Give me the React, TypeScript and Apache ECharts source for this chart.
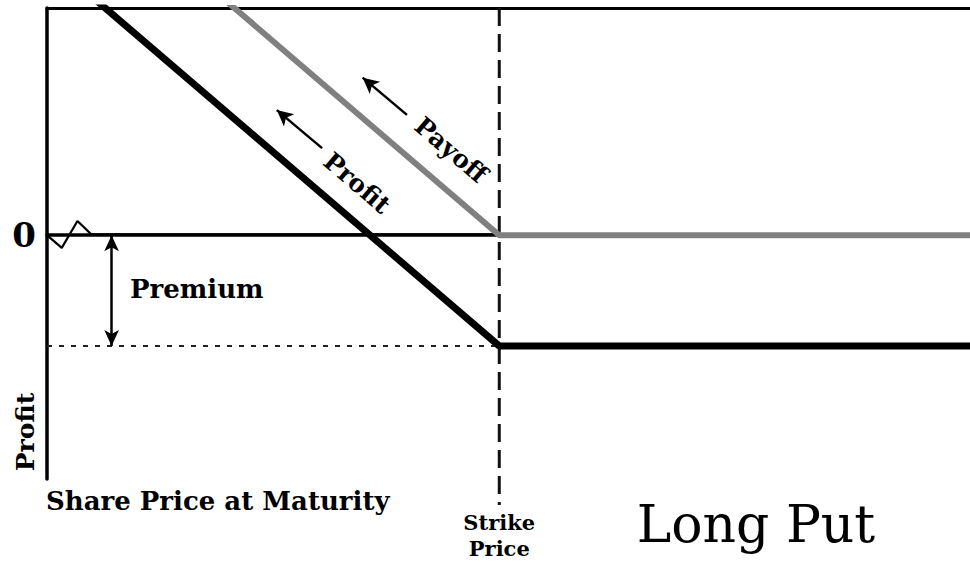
import React, { useEffect, useRef } from "react";
import * as echarts from "echarts";

// Share price axis (arbitrary units) and key levels
const priceMin = 0;
const priceMax = 100;
const profitMin = -30.8;
const profitMax = 28.7;
const strike = 49;
const premium = 14;

// Series data
const sharePrices = [0, 49, 100];
const payoffValues = [49, 0, 0];
const profitValues = [35, -14, -14];

// Zero line with axis-break zigzag
const zeroLineX = [0, 1.6, 3.3, 4.8, 49];
const zeroLineY = [0, -1.6, 1.8, 0.1, 0.1];

// Direction arrows along the lines [fromX, fromY, toX, toY]
const payoffArrow = [39.0, 15.2, 34.2, 19.9];
const profitArrow = [29.8, 11.0, 24.9, 15.8];
const premiumArrowX = 7.0;

const SERIF = "'DejaVu Serif', 'Liberation Serif', serif";

export default function App() {
  const ref = useRef<HTMLDivElement>(null);

  useEffect(() => {
    if (!ref.current) return;
    const chart = echarts.init(ref.current, undefined, { renderer: "svg" });
    const angle = -Math.atan(0.857);

    const option: any = {
      animation: false,
      backgroundColor: "#ffffff",
      grid: { left: 47, top: 8, right: 0, bottom: 83, containLabel: false },
      xAxis: [
        {
          type: "value",
          min: priceMin,
          max: priceMax,
          position: "bottom",
          splitLine: { show: false },
          axisTick: { show: false },
          axisLine: { show: true, lineStyle: { color: "#000", width: 3.5 } },
          axisLabel: {
            show: true,
            customValues: [strike],
            formatter: () => "Strike\nPrice",
            fontFamily: SERIF,
            fontWeight: "bold",
            fontSize: 21,
            lineHeight: 26,
            color: "#000",
            margin: 30,
          },
        },
        {
          type: "value",
          min: priceMin,
          max: priceMax,
          position: "top",
          splitLine: { show: false },
          axisTick: { show: false },
          axisLabel: { show: false },
          axisLine: { show: true, lineStyle: { color: "#000", width: 3 } },
        },
      ],
      yAxis: {
        type: "value",
        min: profitMin,
        max: profitMax,
        splitLine: { show: false },
        axisTick: { show: false },
        axisLine: { show: true, lineStyle: { color: "#000", width: 3.5 } },
        axisLabel: {
          show: true,
          customValues: [0],
          formatter: () => "0",
          fontFamily: SERIF,
          fontWeight: "bold",
          fontSize: 34,
          color: "#000",
          margin: 11,
        },
      },
      series: [
        {
          type: "line",
          name: "zero",
          data: zeroLineX.map((x, i) => [x, zeroLineY[i]]),
          symbol: "none",
          lineStyle: { color: "#000", width: 2.2 },
          z: 2,
        },
        {
          type: "line",
          name: "premiumLevel",
          data: [
            [priceMin, -premium],
            [strike, -premium],
          ],
          symbol: "none",
          lineStyle: { color: "#222", width: 2, type: [5, 7] },
          markLine: {
            silent: true,
            symbol: ["arrow", "arrow"],
            symbolSize: [11, 16],
            label: { show: false },
            lineStyle: { color: "#000", width: 2.5, type: "solid" },
            data: [
              [
                { coord: [premiumArrowX, 0] },
                { coord: [premiumArrowX, -premium] },
              ],
            ],
          },
          z: 2,
        },
        {
          type: "line",
          name: "strike",
          data: [
            [strike, profitMax],
            [strike, profitMin - 3.3],
          ],
          clip: false,
          symbol: "none",
          lineStyle: { color: "#111", width: 3, type: [18, 8] },
          z: 2,
        },
        {
          type: "line",
          name: "Payoff",
          data: sharePrices.map((x, i) => [x, payoffValues[i]]),
          symbol: "none",
          lineStyle: { color: "#808080", width: 6 },
          markLine: {
            silent: true,
            symbol: ["none", "arrow"],
            symbolSize: [12, 16],
            label: { show: false },
            lineStyle: { color: "#000", width: 2.5, type: "solid" },
            data: [
              [
                { coord: [payoffArrow[0], payoffArrow[1]] },
                { coord: [payoffArrow[2], payoffArrow[3]] },
              ],
            ],
          },
          z: 3,
        },
        {
          type: "line",
          name: "Profit",
          data: sharePrices.map((x, i) => [x, profitValues[i]]),
          symbol: "none",
          lineStyle: { color: "#000", width: 7 },
          markLine: {
            silent: true,
            symbol: ["none", "arrow"],
            symbolSize: [12, 16],
            label: { show: false },
            lineStyle: { color: "#000", width: 2.5, type: "solid" },
            data: [
              [
                { coord: [profitArrow[0], profitArrow[1]] },
                { coord: [profitArrow[2], profitArrow[3]] },
              ],
            ],
          },
          z: 4,
        },
      ],
      graphic: [
        {
          type: "text",
          x: 451,
          y: 150,
          rotation: angle,
          style: {
            text: "Payoff",
            fontFamily: SERIF,
            fontWeight: "bold",
            fontSize: 25,
            fill: "#000",
            align: "center",
            verticalAlign: "middle",
          },
        },
        {
          type: "text",
          x: 357,
          y: 183,
          rotation: angle,
          style: {
            text: "Profit",
            fontFamily: SERIF,
            fontWeight: "bold",
            fontSize: 25,
            fill: "#000",
            align: "center",
            verticalAlign: "middle",
          },
        },
        {
          type: "text",
          x: 130,
          y: 289,
          style: {
            text: "Premium",
            fontFamily: SERIF,
            fontWeight: "bold",
            fontSize: 26,
            fill: "#000",
            align: "left",
            verticalAlign: "middle",
          },
        },
        {
          type: "text",
          x: 25,
          y: 432,
          rotation: Math.PI / 2,
          style: {
            text: "Profit",
            fontFamily: SERIF,
            fontWeight: "bold",
            fontSize: 25,
            fill: "#000",
            align: "center",
            verticalAlign: "middle",
          },
        },
        {
          type: "text",
          x: 46,
          y: 501,
          style: {
            text: "Share Price at Maturity",
            fontFamily: SERIF,
            fontWeight: "bold",
            fontSize: 26,
            fill: "#000",
            align: "left",
            verticalAlign: "middle",
          },
        },
        {
          type: "text",
          x: 756,
          y: 524,
          style: {
            text: "Long Put",
            fontFamily: SERIF,
            fontWeight: "normal",
            fontSize: 52,
            fill: "#000",
            align: "center",
            verticalAlign: "middle",
          },
        },
      ],
    };

    chart.setOption(option);
    return () => chart.dispose();
  }, []);

  return (
    <div
      ref={ref}
      style={{ position: "absolute", left: 0, top: 0, width: 970, height: 562 }}
    />
  );
}
